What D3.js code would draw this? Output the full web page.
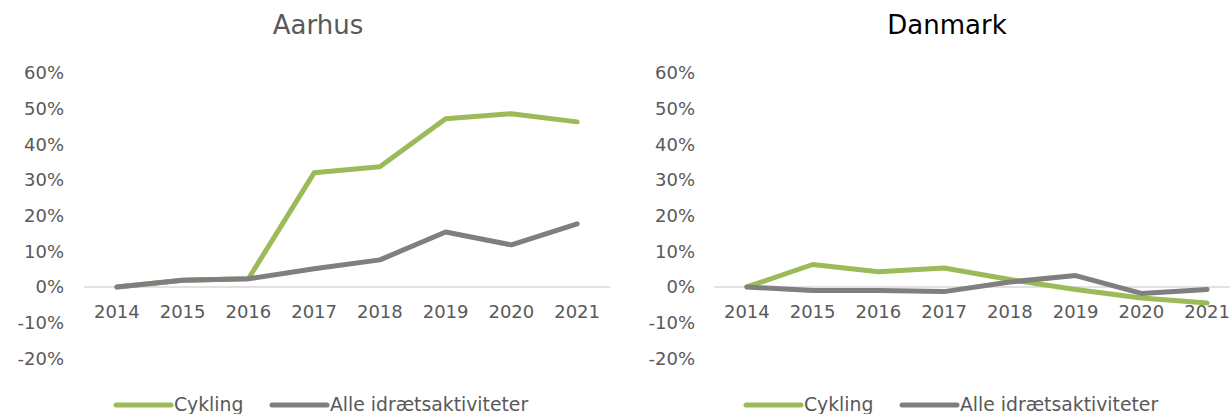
<html>
  <head>
    <script src="https://cdn.jsdelivr.net/npm/d3@7"></script>
    <style>
      body { margin: 0; background: #fff; }
      text { font-family: "DejaVu Sans", Verdana, sans-serif; }
    </style>
  </head>
  <body>
    <div id="chart"></div>
    <script>
      // data (share change vs 2014)
      let years = ["2014", "2015", "2016", "2017", "2018", "2019", "2020", "2021"];
      let yTicks = [-0.2, -0.1, 0, 0.1, 0.2, 0.3, 0.4, 0.5, 0.6];

      let aarhusCykling = [0, 0.019, 0.023, 0.32, 0.337, 0.472, 0.486, 0.463];
      let aarhusAlle = [0, 0.019, 0.023, 0.051, 0.076, 0.154, 0.118, 0.177];

      let dkCykling = [0, 0.063, 0.043, 0.053, 0.021, -0.007, -0.031, -0.045];
      let dkAlle = [0, -0.01, -0.01, -0.013, 0.014, 0.032, -0.018, -0.007];

      let seriesNames = ["Cykling", "Alle idrætsaktiviteter"];
      let colors = ["#9BBB59", "#7F7F7F"];

      let svg = d3
        .select("#chart")
        .append("svg")
        .attr("width", 1230)
        .attr("height", 414);

      function drawPanel(opts) {
        let g = svg.append("g");

        let x = d3
          .scaleBand()
          .domain(years)
          .range([opts.left, opts.left + 526]);

        let y = d3.scaleLinear().domain([-0.2, 0.6]).range([358.3, 73]);

        // title
        g.append("text")
          .attr("x", opts.titleX)
          .attr("y", 34)
          .attr("text-anchor", "middle")
          .style("font-size", "26px")
          .style("fill", opts.titleColor)
          .text(opts.title);

        // y axis labels
        let yAxis = d3
          .axisLeft(y)
          .tickValues(yTicks)
          .tickSize(0)
          .tickFormat((d) => Math.round(d * 100) + "%");
        let yg = g
          .append("g")
          .attr("transform", "translate(" + opts.labelRight + ",0)")
          .call(yAxis);
        yg.select(".domain").remove();
        yg.selectAll("text")
          .attr("x", 0)
          .style("font-size", "18px")
          .style("fill", "#595959");

        // zero line
        g.append("line")
          .attr("x1", x.range()[0])
          .attr("x2", x.range()[1])
          .attr("y1", y(0))
          .attr("y2", y(0))
          .attr("stroke", "#D9D9D9")
          .attr("stroke-width", 1.5);

        // x axis labels
        let xAxis = d3.axisBottom(x).tickSize(0).tickPadding(0);
        let xg = g
          .append("g")
          .attr("transform", "translate(0,318)")
          .call(xAxis);
        xg.select(".domain").remove();
        xg.selectAll("text")
          .attr("dy", 0)
          .attr("y", 0)
          .style("font-size", "18px")
          .style("fill", "#595959");

        let line = d3
          .line()
          .x((d, i) => x(years[i]) + x.bandwidth() / 2)
          .y((d) => y(d));

        // green first, gray on top
        [opts.series[0], opts.series[1]].forEach((s, i) => {
          g.append("path")
            .datum(s)
            .attr("fill", "none")
            .attr("stroke", colors[i])
            .attr("stroke-width", 5)
            .attr("stroke-linejoin", "round")
            .attr("stroke-linecap", "round")
            .attr("d", line);
        });

        // legend
        let leg = g.append("g");
        seriesNames.forEach((name, i) => {
          let lx = opts.legendX[i];
          leg.append("line")
            .attr("x1", lx)
            .attr("x2", lx + 55)
            .attr("y1", 405)
            .attr("y2", 405)
            .attr("stroke", colors[i])
            .attr("stroke-width", 5)
            .attr("stroke-linecap", "round");
          leg.append("text")
            .attr("x", lx + 58)
            .attr("y", 411)
            .style("font-size", "18.8px")
            .style("fill", "#595959")
            .text(name);
        });
      }

      drawPanel({
        title: "Aarhus",
        titleX: 318,
        titleColor: "#595959",
        left: 84,
        labelRight: 64,
        series: [aarhusCykling, aarhusAlle],
        legendX: [116, 272],
      });

      drawPanel({
        title: "Danmark",
        titleX: 947,
        titleColor: "#000000",
        left: 714,
        labelRight: 695,
        series: [dkCykling, dkAlle],
        legendX: [746, 902],
      });
    </script>
  </body>
</html>
